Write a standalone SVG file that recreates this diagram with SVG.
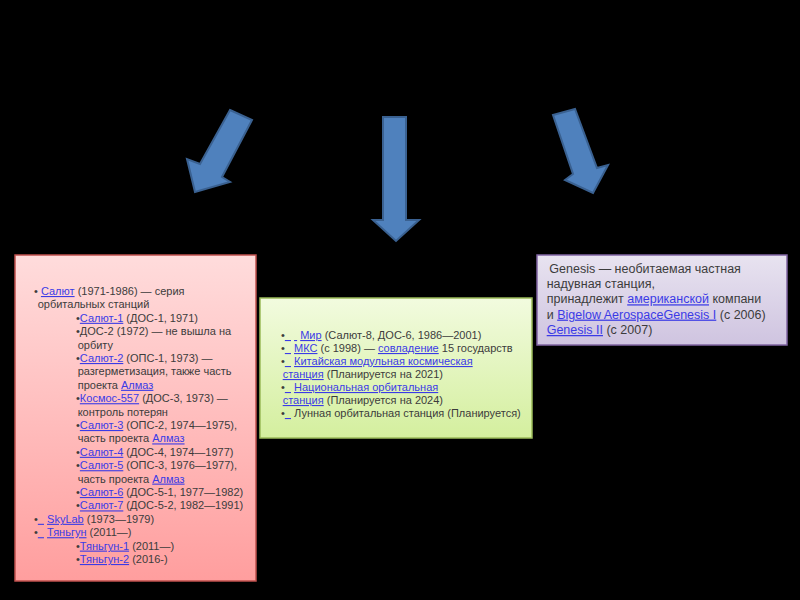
<svg xmlns="http://www.w3.org/2000/svg" width="800" height="600" viewBox="0 0 800 600">
<defs>
<linearGradient id="gPink" x1="0" y1="0" x2="0" y2="1">
<stop offset="0" stop-color="#FFDCDC"/><stop offset="1" stop-color="#FF9E9E"/>
</linearGradient>
<linearGradient id="gGreen" x1="0" y1="0" x2="0" y2="1">
<stop offset="0" stop-color="#F2FBDF"/><stop offset="1" stop-color="#D4EF9E"/>
</linearGradient>
<linearGradient id="gLav" x1="0" y1="0" x2="0" y2="1">
<stop offset="0" stop-color="#E8E3F0"/><stop offset="1" stop-color="#CFC4E0"/>
</linearGradient>
</defs>
<style>
.arrow{fill:#4F81BD;stroke:#3A6191;stroke-width:2;stroke-linejoin:miter}
.t{font-family:"Liberation Sans",Arial,sans-serif;font-size:11px;fill:#3C3C3C}
.r{font-family:"Liberation Sans",Arial,sans-serif;font-size:12.5px;fill:#3C3C3C}
.a{fill:#3B3BE6;text-decoration:underline}
</style>
<rect width="800" height="600" fill="#000"/>
<g id="connectors">
<polygon class="arrow" points="230,110 252,120 222,177 230,182 195,192 187,159 200,164"/>
<polygon class="arrow" points="383,117 406,117 406,220 419,220 396,241 373,220 383,220"/>
<polygon class="arrow" points="553,115 575,109 597,168 608,165 593,193 565,180 573,174"/>
</g>
<g id="node-left">
<rect x="15" y="255" width="241" height="326" fill="url(#gPink)" stroke="#C0504D" stroke-width="1.5"/>
<text class="t" x="34" y="295">• <tspan class="a">Салют</tspan> (1971-1986) — серия</text>
<text class="t" x="37.7" y="308.4">орбитальных станций</text>
<text class="t" x="76" y="321.8">•<tspan class="a">Салют-1</tspan> (ДОС-1, 1971)</text>
<text class="t" x="76" y="335.2">•ДОС-2 (1972) — не вышла на</text>
<text class="t" x="77.7" y="348.6">орбиту</text>
<text class="t" x="76" y="362">•<tspan class="a">Салют-2</tspan> (ОПС-1, 1973) —</text>
<text class="t" x="77.7" y="375.4">разгерметизация, также часть</text>
<text class="t" x="77.7" y="388.8">проекта <tspan class="a">Алмаз</tspan></text>
<text class="t" x="76" y="402.2">•<tspan class="a">Космос-557</tspan> (ДОС-3, 1973) —</text>
<text class="t" x="77.7" y="415.6">контроль потерян</text>
<text class="t" x="76" y="429">•<tspan class="a">Салют-3</tspan> (ОПС-2, 1974—1975),</text>
<text class="t" x="77.7" y="442.4">часть проекта <tspan class="a">Алмаз</tspan></text>
<text class="t" x="76" y="455.8">•<tspan class="a">Салют-4</tspan> (ДОС-4, 1974—1977)</text>
<text class="t" x="76" y="469.2">•<tspan class="a">Салют-5</tspan> (ОПС-3, 1976—1977),</text>
<text class="t" x="77.7" y="482.6">часть проекта <tspan class="a">Алмаз</tspan></text>
<text class="t" x="76" y="496">•<tspan class="a">Салют-6</tspan> (ДОС-5-1, 1977—1982)</text>
<text class="t" x="76" y="509.4">•<tspan class="a">Салют-7</tspan> (ДОС-5-2, 1982—1991)</text>
<text class="t" x="34" y="522.8">•<tspan class="a">&#160;&#160;</tspan>&#160;<tspan class="a">SkyLab</tspan> (1973—1979)</text>
<text class="t" x="34" y="536.2">•<tspan class="a">&#160;&#160;</tspan>&#160;<tspan class="a">Тяньгун</tspan> (2011—)</text>
<text class="t" x="76" y="549.6">•<tspan class="a">Тяньгун-1</tspan> (2011—)</text>
<text class="t" x="76" y="563">•<tspan class="a">Тяньгун-2</tspan> (2016-)</text>
</g>
<g id="node-middle">
<rect x="260" y="298" width="272" height="140" fill="url(#gGreen)" stroke="#9BBB59" stroke-width="1.5"/>
<text class="t" x="281" y="339">•<tspan class="a">&#160;&#160;</tspan>&#160;<tspan class="a">&#160;</tspan>&#160;<tspan class="a">Мир</tspan> (Салют-8, ДОС-6, 1986—2001)</text>
<text class="t" x="281" y="352">•<tspan class="a">&#160;&#160;</tspan>&#160;<tspan class="a">МКС</tspan> (с 1998) — <tspan class="a">совладение</tspan> 15 государств</text>
<text class="t" x="281" y="365">•<tspan class="a">&#160;&#160;</tspan>&#160;<tspan class="a">Китайская модульная космическая</tspan></text>
<text class="t" x="282.7" y="378"><tspan class="a">станция</tspan> (Планируется на 2021)</text>
<text class="t" x="281" y="391">•<tspan class="a">&#160;&#160;</tspan>&#160;<tspan class="a">Национальная орбитальная</tspan></text>
<text class="t" x="282.7" y="404"><tspan class="a">станция</tspan> (Планируется на 2024)</text>
<text class="t" x="281" y="417">•<tspan class="a">&#160;&#160;</tspan>&#160;Лунная орбитальная станция (Планируется)</text>
</g>
<g id="node-right">
<rect x="537" y="255" width="250" height="90" fill="url(#gLav)" stroke="#8064A2" stroke-width="1.5"/>
<text class="r" x="549.3" y="272.5">Genesis — необитаемая частная</text>
<text class="r" x="546.7" y="288">надувная станция,</text>
<text class="r" x="546.7" y="303.3">принадлежит <tspan class="a">американской</tspan> компани</text>
<text class="r" x="546.7" y="318.6">и <tspan class="a">Bigelow AerospaceGenesis I</tspan> (с 2006)</text>
<text class="r" x="546.7" y="334"><tspan class="a">Genesis II</tspan> (с 2007)</text>
</g>
</svg>
